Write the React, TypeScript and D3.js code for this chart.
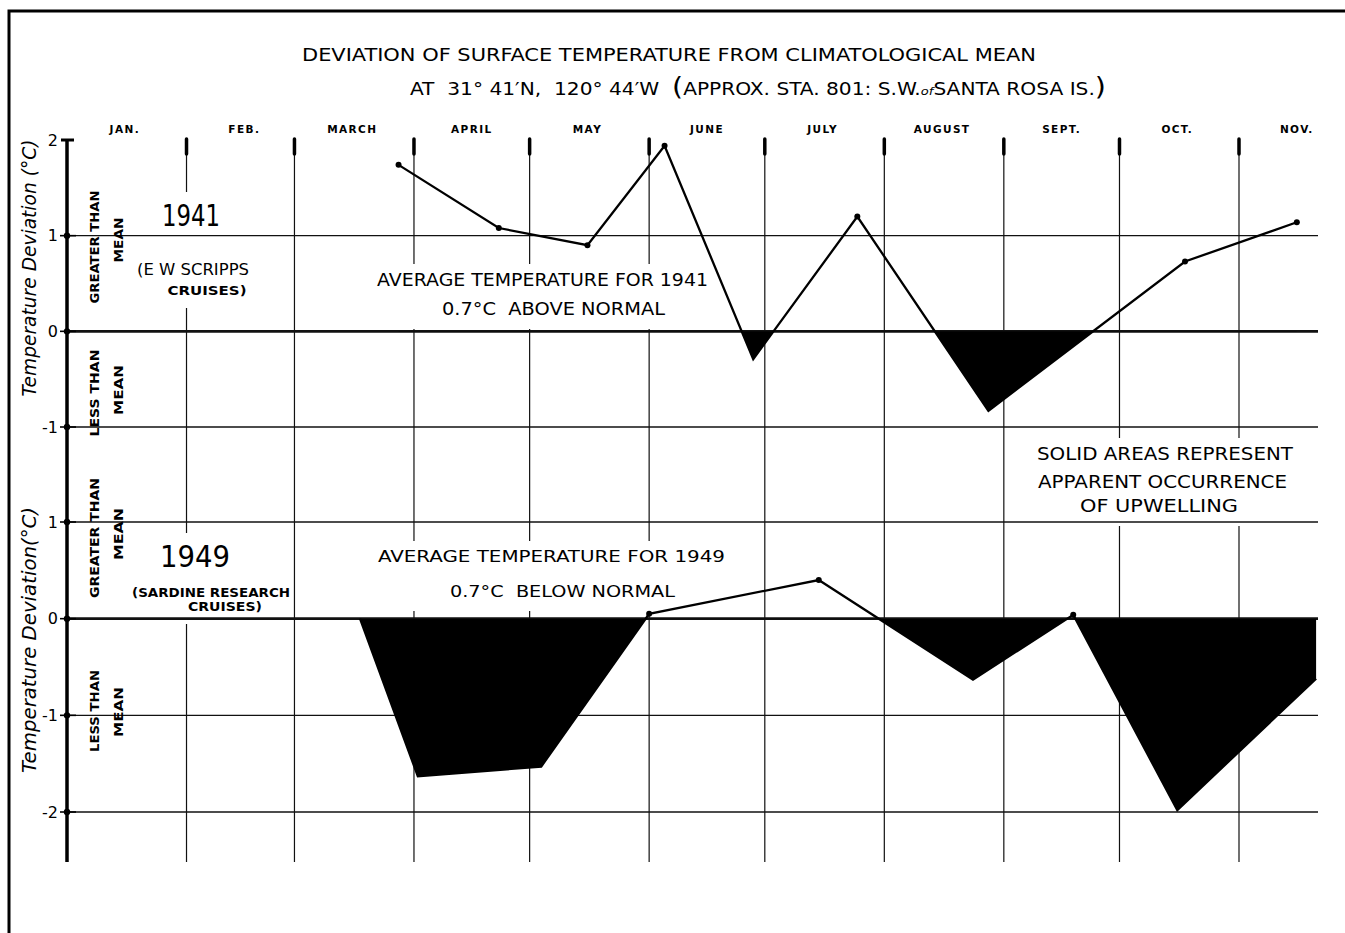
import React, { useEffect, useRef } from 'react'
import * as d3 from 'd3'

const months = ["JAN.", "FEB.", "MARCH", "APRIL", "MAY", "JUNE", "JULY", "AUGUST", "SEPT.", "OCT.", "NOV."]

// E.W. Scripps cruises
const dates1941 = ["1941-03-28", "1941-04-23", "1941-05-16", "1941-06-05", "1941-06-28", "1941-07-25", "1941-08-28", "1941-10-18", "1941-11-16"]
const values1941 = [1.74, 1.08, 0.90, 1.94, -0.29, 1.20, -0.83, 0.73, 1.14]

// Sardine research cruises
const dates1949 = ["1949-03-18", "1949-04-02", "1949-05-04", "1949-06-01", "1949-07-15", "1949-08-24", "1949-09-19", "1949-10-16", "1949-11-21"]
const values1949 = [0, -1.63, -1.53, 0.05, 0.40, -0.63, 0.04, -1.98, -0.62]

const ticksTop = [2, 1, 0, -1]
const ticksBottom = [1, 0, -1, -2]

const parse = d3.timeParse("%Y-%m-%d")

const SANS = "'DejaVu Sans', 'Liberation Sans', sans-serif"
const COND = "'DejaVu Sans Condensed', 'Liberation Sans Narrow', 'DejaVu Sans', sans-serif"

interface Line {
  text: string
  x: number
  y: number
  size: number
  len: number
  weight?: string | number
  family?: string
  style?: string
}

const App: React.FC = () => {
  const svgRef = useRef<SVGSVGElement>(null)

  useEffect(() => {
    if (!svgRef.current) return
    const svg = d3.select(svgRef.current)
    svg.selectAll("*").remove()

    const left = 67
    const right = 1318
    const top = 139
    const bottom = 862

    // 1941 and 1949 are both common years, so one calendar scale serves both panels
    const x = d3.scaleTime()
      .domain([new Date(1941, 0, 1), new Date(1941, 10, 1)])
      .range([left, 1239])
    const xOf = (s: string) => {
      const d = parse(s)!
      return x(new Date(1941, d.getMonth(), d.getDate()))
    }

    const yTop = d3.scaleLinear().domain([-1, 2]).range([427, 140])
    const yBot = d3.scaleLinear().domain([-2, 1]).range([812, 522])

    svg.append("rect").attr("width", 1345).attr("height", 933).attr("fill", "#fff")

    // frame
    svg.append("path")
      .attr("d", "M9,933 V11 H1345")
      .attr("fill", "none")
      .attr("stroke", "#000")
      .attr("stroke-width", 3)

    // month boundaries
    const bounds = d3.timeMonth.range(new Date(1941, 1, 1), new Date(1941, 10, 2))
    const vgrid = svg.append("g")
    vgrid.selectAll("line.v").data(bounds).join("line")
      .attr("class", "v")
      .attr("x1", d => x(d)).attr("x2", d => x(d))
      .attr("y1", top).attr("y2", bottom)
      .attr("stroke", "#111")
      .attr("stroke-width", 1.2)
    vgrid.selectAll("line.vt").data(bounds).join("line")
      .attr("class", "vt")
      .attr("x1", d => x(d)).attr("x2", d => x(d))
      .attr("y1", top).attr("y2", top + 15)
      .attr("stroke", "#000")
      .attr("stroke-width", 3.5)
      .attr("stroke-linecap", "round")

    const halos = svg.append("g")
    const hgrid = svg.append("g")
    const axis = svg.append("g")
    const labels = svg.append("g")
    const marks = svg.append("g")

    // horizontal grid
    const gridRows = [
      ...ticksTop.filter(t => t < 2).map(t => ({ y: yTop(t), zero: t === 0 })),
      ...ticksBottom.map(t => ({ y: yBot(t), zero: t === 0 })),
    ]
    hgrid.selectAll("line").data(gridRows).join("line")
      .attr("x1", left).attr("x2", right)
      .attr("y1", d => d.y).attr("y2", d => d.y)
      .attr("stroke", "#111")
      .attr("stroke-width", d => d.zero ? 2.6 : 1.3)

    // y axis
    axis.append("line")
      .attr("x1", left).attr("x2", left)
      .attr("y1", top).attr("y2", bottom)
      .attr("stroke", "#000").attr("stroke-width", 3.5)
    axis.append("line")
      .attr("x1", 61).attr("x2", 74)
      .attr("y1", yTop(2)).attr("y2", yTop(2))
      .attr("stroke", "#000").attr("stroke-width", 3)

    const tickRows = [
      ...ticksTop.map(t => ({ y: yTop(t), t })),
      ...ticksBottom.map(t => ({ y: yBot(t), t })),
    ]
    axis.selectAll("circle").data(tickRows.filter(d => d.t !== 2)).join("circle")
      .attr("cx", left).attr("cy", d => d.y).attr("r", 3.2).attr("fill", "#000")
    axis.selectAll("line.tk").data(tickRows.filter(d => d.t !== 2)).join("line")
      .attr("class", "tk")
      .attr("x1", 60).attr("x2", 76)
      .attr("y1", d => d.y).attr("y2", d => d.y)
      .attr("stroke", "#000").attr("stroke-width", 1.6)
    axis.selectAll("text").data(tickRows).join("text")
      .attr("x", 58)
      .attr("y", d => d.y)
      .attr("dy", "0.36em")
      .attr("text-anchor", "end")
      .attr("font-family", SANS)
      .attr("font-size", 16)
      .text(d => String(d.t))

    const addLine = (g: d3.Selection<SVGGElement, unknown, null, undefined>, l: Line) =>
      g.append("text")
        .attr("x", l.x)
        .attr("y", l.y)
        .attr("text-anchor", "middle")
        .attr("font-family", l.family ?? SANS)
        .attr("font-size", l.size)
        .attr("font-weight", l.weight ?? "normal")
        .attr("font-style", l.style ?? "normal")
        .attr("textLength", l.len)
        .attr("lengthAdjust", "spacingAndGlyphs")
        .style("white-space", "pre")
        .text(l.text)

    // title
    addLine(labels, { text: "DEVIATION OF SURFACE TEMPERATURE FROM CLIMATOLOGICAL MEAN", x: 669, y: 61, size: 17, len: 734, family: COND })
    const t2 = labels.append("text")
      .attr("x", 758).attr("y", 95)
      .attr("text-anchor", "middle")
      .attr("font-family", COND)
      .attr("font-size", 17)
      .attr("textLength", 696)
      .attr("lengthAdjust", "spacingAndGlyphs")
      .style("white-space", "pre")
    t2.append("tspan").text("AT  31° 41′N,  120° 44′W  ")
    t2.append("tspan").attr("font-size", 24).text("(")
    t2.append("tspan").text("APPROX. STA. 801: S.W.")
    t2.append("tspan").attr("font-size", 11).attr("font-style", "italic").text("of")
    t2.append("tspan").text("SANTA ROSA IS.")
    t2.append("tspan").attr("font-size", 24).text(")")

    // month names
    labels.selectAll("text.month").data(months).join("text")
      .attr("class", "month")
      .attr("x", (d, i) => x(new Date(1941, i, 16)))
      .attr("y", 133)
      .attr("text-anchor", "middle")
      .attr("font-family", SANS)
      .attr("font-weight", "bold")
      .attr("font-size", 10.5)
      .attr("letter-spacing", 1.4)
      .text(d => d)

    // text blocks that interrupt the month lines
    const blocks: Line[][] = [
      [
        { text: "1941", x: 191, y: 226, size: 30, len: 58 },
        { text: "(E W SCRIPPS", x: 193, y: 275, size: 15, len: 112, family: COND },
        { text: "CRUISES)", x: 207, y: 295, size: 12, len: 79, weight: "bold" },
      ],
      [
        { text: "AVERAGE TEMPERATURE FOR 1941", x: 542.5, y: 286, size: 17, len: 331 },
        { text: "0.7°C  ABOVE NORMAL", x: 553.5, y: 315, size: 17, len: 223 },
      ],
      [
        { text: "1949", x: 195, y: 567, size: 30, len: 70 },
        { text: "(SARDINE RESEARCH", x: 211, y: 597, size: 12, len: 158, weight: "bold" },
        { text: "CRUISES)", x: 225, y: 611, size: 12, len: 74, weight: "bold" },
      ],
      [
        { text: "AVERAGE TEMPERATURE FOR 1949", x: 551.5, y: 562, size: 16, len: 347, family: COND },
        { text: "0.7°C  BELOW NORMAL", x: 562.5, y: 597, size: 16, len: 225, family: COND },
      ],
      [
        { text: "SOLID AREAS REPRESENT", x: 1165, y: 460, size: 17, len: 256 },
        { text: "APPARENT OCCURRENCE", x: 1162.5, y: 488, size: 17, len: 249 },
        { text: "OF UPWELLING", x: 1159, y: 512, size: 17, len: 158 },
      ],
    ]
    blocks.forEach(block => {
      const g = labels.append("g")
      block.forEach(l => addLine(g, l))
      const b = (g.node() as SVGGElement).getBBox()
      halos.append("rect")
        .attr("x", b.x - 3).attr("y", b.y - 6)
        .attr("width", b.width + 6).attr("height", b.height + 16)
        .attr("fill", "#fff")
    })

    // rotated labels
    const rotated: Line[] = [
      { text: "Temperature Deviation (°C)", x: 29, y: 268, size: 20, len: 257, style: "italic" },
      { text: "Temperature Deviation(°C)", x: 29, y: 640, size: 20, len: 266, style: "italic" },
      { text: "GREATER THAN", x: 94, y: 247, size: 12.5, len: 113, weight: "bold", family: COND },
      { text: "MEAN", x: 118, y: 240, size: 12.5, len: 45, weight: "bold", family: COND },
      { text: "LESS THAN", x: 94, y: 393, size: 12.5, len: 87, weight: "bold", family: COND },
      { text: "MEAN", x: 118, y: 390, size: 12.5, len: 50, weight: "bold", family: COND },
      { text: "GREATER THAN", x: 94, y: 538, size: 12.5, len: 120, weight: "bold", family: COND },
      { text: "MEAN", x: 118, y: 534, size: 12.5, len: 52, weight: "bold", family: COND },
      { text: "LESS THAN", x: 94, y: 711, size: 12.5, len: 82, weight: "bold", family: COND },
      { text: "MEAN", x: 118, y: 712, size: 12.5, len: 50, weight: "bold", family: COND },
    ]
    rotated.forEach(l => {
      addLine(labels, { ...l, x: 0, y: 0 })
        .attr("dominant-baseline", "central")
        .attr("transform", `translate(${l.x},${l.y}) rotate(-90)`)
    })

    // series
    const drawSeries = (dates: string[], values: number[], y: d3.ScaleLinear<number, number>, id: string) => {
      const pts = dates.map((d, i) => ({ x: xOf(d), v: values[i] }))

      svg.append("clipPath").attr("id", `below-${id}`)
        .append("rect")
        .attr("x", left).attr("y", y(0))
        .attr("width", right - left).attr("height", 300)

      marks.append("path")
        .datum(pts)
        .attr("clip-path", `url(#below-${id})`)
        .attr("fill", "#000")
        .attr("d", d3.area<{ x: number, v: number }>()
          .x(p => p.x)
          .y0(y(0))
          .y1(p => y(p.v)))

      marks.append("path")
        .datum(pts)
        .attr("fill", "none")
        .attr("stroke", "#000")
        .attr("stroke-width", 2.3)
        .attr("stroke-linejoin", "miter")
        .attr("d", d3.line<{ x: number, v: number }>()
          .x(p => p.x)
          .y(p => y(p.v)))

      // points below the mean are lost in the solid fill
      marks.append("g").selectAll("circle").data(pts.filter(p => p.v > 0)).join("circle")
        .attr("cx", p => p.x)
        .attr("cy", p => y(p.v))
        .attr("r", 3)
        .attr("fill", "#000")
    }

    drawSeries(dates1941, values1941, yTop, "1941")
    drawSeries(dates1949, values1949, yBot, "1949")
  }, [])

  return (
    <svg
      ref={svgRef}
      width={1345}
      height={933}
      style={{ position: "absolute", left: 0, top: 0, background: "#fff" }}
    />
  )
}

export default App
